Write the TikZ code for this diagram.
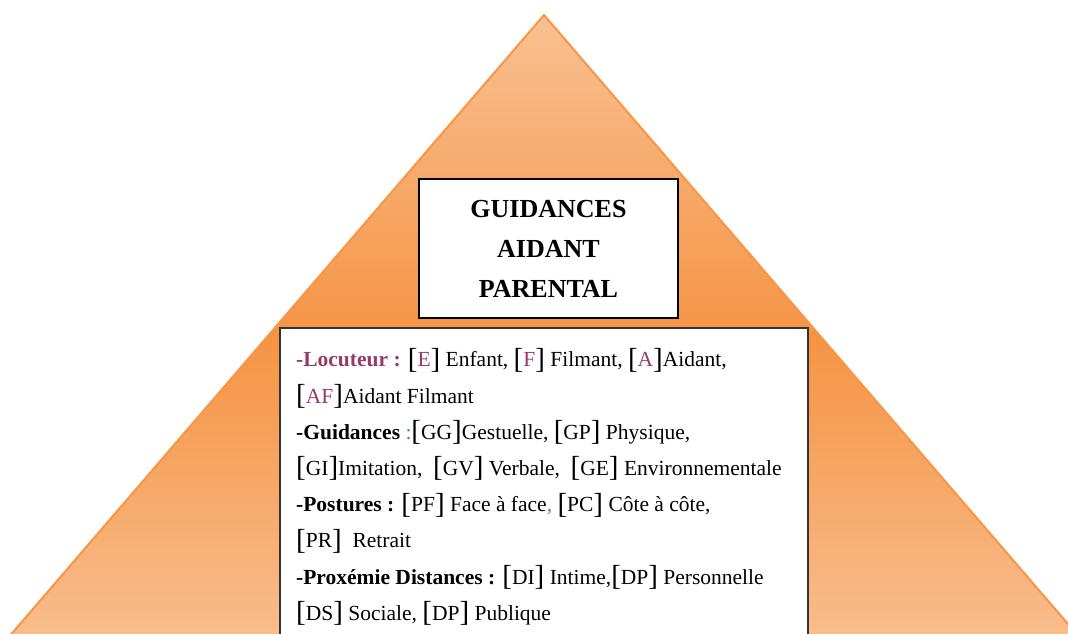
\documentclass[tikz,border=0pt]{standalone}
\usepackage{fontspec}
\setmainfont{Liberation Serif}
\usepackage{xcolor}
\usepackage{tikz}
\usetikzlibrary{positioning}
\definecolor{peachLight}{HTML}{F9C092}
\definecolor{peachDark}{HTML}{F59444}
\definecolor{pyramidEdge}{HTML}{F79646}
\definecolor{locPlum}{HTML}{953B69}
\definecolor{markBlue}{HTML}{4F81BD}

\newcommand{\bigbr}[1]{\raisebox{-1.5pt}{\fontsize{29}{29}\selectfont#1}}
\newcommand{\brk}[1]{\bigbr{[}#1\bigbr{]}}
\newcommand{\brkL}[1]{\brk{\textcolor{locPlum}{#1}}}

\begin{document}
\begin{tikzpicture}[
    x=1pt, y=-1pt,
    every node/.style={font=\fontsize{21.5}{36.2}\selectfont},
    titlebox/.style={draw=black, line width=1.5pt, fill=white,
      minimum width=259pt, minimum height=139pt, align=center,
      font=\fontsize{26}{40}\selectfont\bfseries},
    keybox/.style={draw=black!80, line width=2pt, fill=white},
    keytext/.style={align=left, inner sep=0pt, anchor=north west}
  ]
  \useasboundingbox (0,0) rectangle (1068,633);
  \clip (0,0) rectangle (1068,633);

  % ── Pyramid ─────────────────────────────────────────────────────────────
  \coordinate (apex)  at (544,15);
  \coordinate (baseL) at (-11,660);
  \coordinate (baseR) at (1099,660);
  \shade[top color=peachLight, bottom color=peachLight, middle color=peachDark]
    (apex) -- (baseL) -- (baseR) -- cycle;
  \draw[pyramidEdge, line width=2pt, line join=round]
    (baseL) -- (apex) -- (baseR);

  % ── Title ───────────────────────────────────────────────────────────────
  \node[titlebox] (title) at (548.5,248.5) {GUIDANCES\\AIDANT\\PARENTAL};

  % ── Codes (box runs off the bottom) ─────────────────────────────────────
  \coordinate (keyTL) at (280,328);
  \coordinate (keyBR) at (808,660);
  \draw[keybox] (keyTL) rectangle (keyBR);
  \node[keytext] (keys) at (296,348) {%
    \textcolor{locPlum}{\textbf{-Locuteur :}} \brkL{E} Enfant, \brkL{F} Filmant, \brkL{A}Aidant,\\
    \brkL{AF}Aidant Filmant\\
    \textbf{-Guidances} \textcolor{markBlue}{:}\brk{GG}Gestuelle, \brk{GP} Physique,\\
    \brk{GI}Imitation,\ \ \brk{GV} Verbale,\ \ \brk{GE} Environnementale\\
    \textbf{-Postures :} \brk{PF} Face à face\textcolor{markBlue}{,} \brk{PC} Côte à côte,\\
    \brk{PR}\ \ Retrait\\
    \textbf{-Proxémie Distances :} \brk{DI} Intime,\brk{DP} Personnelle\\
    \brk{DS} Sociale, \brk{DP} Publique};

\end{tikzpicture}
\end{document}
